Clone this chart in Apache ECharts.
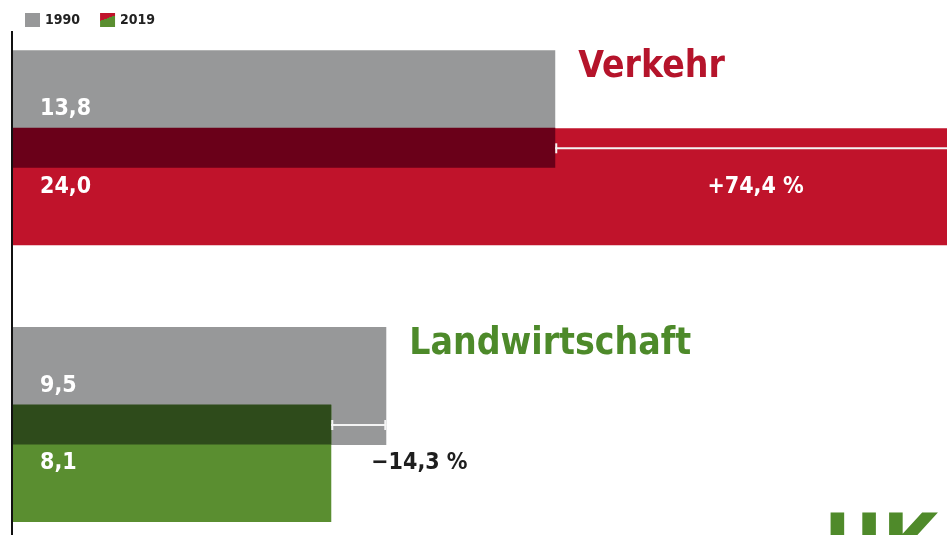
<!DOCTYPE html>
<html>
<head>
<meta charset="utf-8">
<script src="https://cdn.jsdelivr.net/npm/echarts@6/dist/echarts.min.js"></script>
<style>
  html, body { margin: 0; padding: 0; background: #fff; }
  .demo { width: 947px; height: 535px; }
</style>
</head>
<body>
<div class="demo"></div>
<script>
const categories = ['Verkehr', 'Landwirtschaft']
const values1990 = [13.8, 9.5]
const values2019 = [24.0, 8.1]
const changePct = [74.4, -14.3]
const legendNames = ['1990', '2019']

;(function () {
  const chartinstance = echarts.init(document.querySelector('.demo'))
  const FONT = '"DejaVu Sans Condensed", "Liberation Sans Narrow", "DejaVu Sans", sans-serif'
  const gray = '#979899'
  const barColor = ['#c0132b', '#5a8e30']
  const overlapColor = ['#6a0019', '#2e4b1b']
  const nameColor = ['#b5142b', '#4d8a2a']

  const fmt = v => v.toFixed(1).replace('.', ',')
  const fmtPct = v => (v > 0 ? '+' : '\u2212') + fmt(Math.abs(v)) + ' %'

  const valueLabel = {
    show: true,
    position: 'insideLeft',
    distance: 27,
    color: '#fff',
    fontFamily: FONT,
    fontWeight: 'bold',
    fontSize: 23,
    formatter: p => fmt(p.value)
  }

  const option = {
    animation: false,
    backgroundColor: '#fff',
    legend: {
      left: 25,
      top: 13,
      padding: 0,
      itemWidth: 15,
      itemHeight: 14,
      itemGap: 20,
      icon: 'rect',
      textStyle: { fontFamily: FONT, fontWeight: 'bold', fontSize: 14, color: '#222' },
      data: [
        { name: legendNames[0], itemStyle: { color: gray } },
        {
          name: legendNames[1],
          itemStyle: {
            color: new echarts.graphic.LinearGradient(0, 0, 0.35, 1, [
              { offset: 0, color: barColor[0] },
              { offset: 0.5, color: barColor[0] },
              { offset: 0.5, color: barColor[1] },
              { offset: 1, color: barColor[1] }
            ])
          }
        }
      ]
    },
    // categories sit on the grid edges (boundaryGap false), so the grid is one band tall
    grid: { left: 13, right: 0, top: 147.8, height: 276.7 },
    xAxis: { type: 'value', min: 0, max: 23.77, show: false },
    yAxis: [
      { type: 'category', data: categories, inverse: true, boundaryGap: false, show: false },
      { type: 'category', data: categories, inverse: true, boundaryGap: false, show: false }
    ],
    graphic: [
      {
        type: 'line',
        shape: { x1: 12, y1: 31, x2: 12, y2: 535 },
        style: { stroke: '#111', lineWidth: 2 },
        z: 100
      },
      {
        type: 'text',
        left: 824,
        top: 510,
        style: { text: 'UK', fill: '#4f8a2a', fontFamily: FONT, fontWeight: 'bold', fontSize: 80 }
      }
    ],
    series: [
      {
        name: legendNames[0],
        type: 'bar',
        yAxisIndex: 0,
        barWidth: 118,
        barGap: '-33.9%',
        itemStyle: { color: gray },
        label: valueLabel,
        data: values1990
      },
      {
        name: legendNames[1],
        type: 'bar',
        yAxisIndex: 0,
        barWidth: 117,
        barGap: '-33.9%',
        itemStyle: { color: barColor[0] },
        label: valueLabel,
        data: values2019.map((v, i) => ({ value: v, itemStyle: { color: barColor[i] } }))
      },
      {
        name: 'overlap',
        type: 'bar',
        yAxisIndex: 1,
        barWidth: 40,
        silent: true,
        data: values1990.map((v, i) => ({
          value: Math.min(v, values2019[i]),
          itemStyle: { color: overlapColor[i] }
        }))
      },
      {
        name: 'notes',
        type: 'custom',
        yAxisIndex: 0,
        silent: true,
        z: 10,
        data: categories.map((c, i) => [values1990[i], i, values2019[i], changePct[i]]),
        renderItem: function (params, api) {
          const i = params.dataIndex
          const g = api.value(0)
          const now = api.value(2)
          const pct = api.value(3)
          const yc = api.coord([0, i])[1]
          const xg = api.coord([g, i])[0]
          const xn = api.coord([now, i])[0]
          const xa = Math.min(xg, xn)
          const xb = Math.max(xg, xn)
          const ly = yc + 0.5
          const children = [
            { type: 'line', shape: { x1: xa, y1: ly, x2: xb, y2: ly }, style: { stroke: '#f4f4f4', lineWidth: 2 } },
            { type: 'line', shape: { x1: xa + 1, y1: ly - 5, x2: xa + 1, y2: ly + 5 }, style: { stroke: '#f4f4f4', lineWidth: 2 } },
            { type: 'line', shape: { x1: xb - 1, y1: ly - 5, x2: xb - 1, y2: ly + 5 }, style: { stroke: '#f4f4f4', lineWidth: 2 } },
            {
              type: 'text',
              x: xg + 23,
              y: yc - 80,
              style: {
                text: categories[i],
                fill: nameColor[i],
                fontFamily: FONT,
                fontWeight: 'bold',
                fontSize: 37,
                align: 'left',
                verticalAlign: 'middle'
              }
            },
            {
              type: 'text',
              x: pct > 0 ? (xa + xb) / 2 : xn + 40,
              y: yc + 39,
              style: {
                text: fmtPct(pct),
                fill: pct > 0 ? '#fff' : '#1e1e1e',
                fontFamily: FONT,
                fontWeight: 'bold',
                fontSize: 23,
                align: pct > 0 ? 'center' : 'left',
                verticalAlign: 'middle'
              }
            }
          ]
          return { type: 'group', children: children }
        }
      }
    ]
  }
  option && chartinstance.setOption(option)
  window.addEventListener('resize', () => {
    chartinstance.resize()
  })
})()
</script>
</body>
</html>
